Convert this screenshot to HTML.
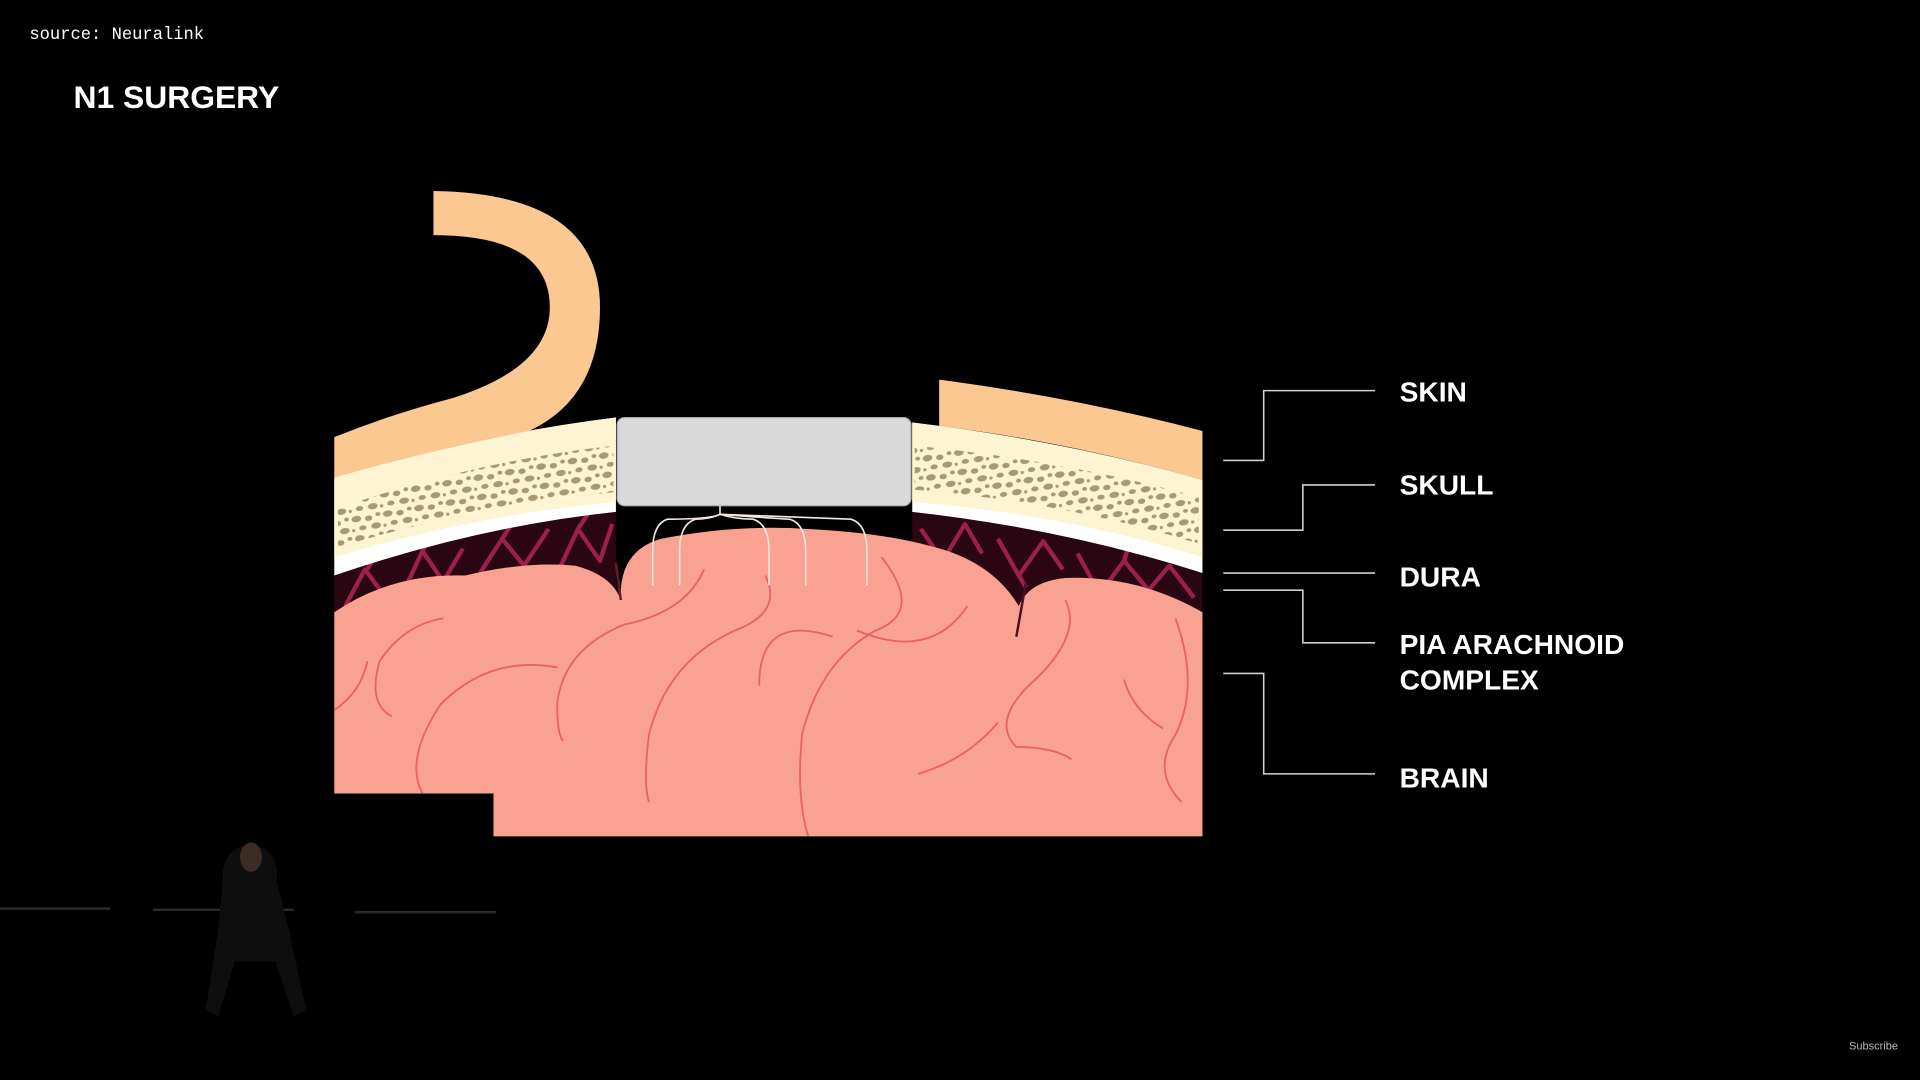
<!DOCTYPE html>
<html><head><meta charset="utf-8"><style>
html,body{margin:0;padding:0;background:#000;width:1920px;height:1080px;overflow:hidden}
svg{display:block}
</style></head><body>
<svg width="1920" height="1080" viewBox="0 0 1568 882" preserveAspectRatio="none" xmlns="http://www.w3.org/2000/svg">
<defs>
<pattern id="pores" width="26" height="16" patternUnits="userSpaceOnUse" patternTransform="rotate(-10)">
<ellipse cx="5" cy="4" rx="4" ry="2.6" fill="#a89876"/>
<ellipse cx="15" cy="5" rx="3" ry="2.2" fill="#a89876"/>
<ellipse cx="23" cy="3" rx="2" ry="1.6" fill="#a89876"/>
<ellipse cx="9" cy="12" rx="3" ry="2" fill="#a89876"/>
<ellipse cx="20" cy="12" rx="4" ry="2.5" fill="#a89876"/>
<ellipse cx="1" cy="13" rx="1.6" ry="1.3" fill="#a89876"/>
</pattern>
</defs>
<rect width="1568" height="882" fill="#000"/>
<text x="24" y="32" font-family="Liberation Mono, monospace" font-size="14" fill="#fff">source: Neuralink</text>
<text x="60" y="88" font-family="Liberation Sans, sans-serif" font-weight="bold" font-size="26" fill="#fff">N1 SURGERY</text>

<path d="M273 470 Q390 430 503 418 L503 500 L273 500 Z" fill="#2a0612"/>
<path d="M745 418 Q870 432 982 468 L982 500 L745 500 Z" fill="#2a0612"/>
<g stroke="#9c1f4c" stroke-width="3.5" fill="none" stroke-linejoin="round">
<path d="M282 495 L298 465 L318 492 M300 465 L310 448 M332 478 L345 450 L362 475 L378 448 M345 450 L352 438 M392 468 L410 440 L428 462 L448 432 M410 440 L418 428 M458 462 L472 432 L490 458 L500 428 M472 432 L480 420"/>
<path d="M752 432 L770 458 L788 428 L802 452 M770 458 L772 470 M815 440 L832 470 L852 442 L868 465 M832 470 L838 480 M880 452 L898 485 L918 458 L938 482 L955 462 L975 488 M918 458 L922 445"/>
</g>

<path d="M273 500 Q320 468 380 470 Q430 458 470 462 Q500 470 507 490 Q505 450 540 440 Q600 428 660 432 Q720 435 760 446 Q810 458 832 495 Q840 475 870 472 Q930 470 982 500 L982 683 L403 683 L403 648 L273 648 Z" fill="#f9a292"/>
<g stroke="#e8606a" stroke-width="1.5" fill="none">
<path d="M362 505 Q330 510 310 540 Q300 575 320 585"/>
<path d="M455 545 Q400 535 360 575 Q330 620 345 648"/>
<path d="M575 465 Q560 500 510 510 Q460 530 455 575 Q455 600 460 605"/>
<path d="M625 470 Q640 500 600 515 Q545 540 530 600 Q525 640 530 655"/>
<path d="M680 520 Q620 500 620 560"/>
<path d="M720 455 Q755 500 715 515 Q670 540 655 600 Q650 650 660 683"/>
<path d="M790 495 Q760 540 700 515"/>
<path d="M870 490 Q885 520 840 560 Q810 590 830 610 Q860 610 875 620"/>
<path d="M750 632 Q790 620 815 590"/>
<path d="M960 505 Q980 560 960 600 Q940 630 965 655"/>
<path d="M918 555 Q925 580 950 595"/>
<path d="M273 580 Q295 565 300 540"/>
</g>
<path d="M503 460 L507 490" stroke="#6b1a2a" stroke-width="2"/>
<path d="M838 475 L830 520" stroke="#4a1020" stroke-width="2"/>

<path d="M273 390 Q390 355 503 341 L503 418 Q390 430 273 470 Z" fill="#fff"/>
<path d="M273 390 Q390 355 503 341 L503 410 Q390 420 273 455 Z" fill="#fdf5d2"/>
<path d="M745 345 Q870 360 982 392 L982 468 Q870 432 745 418 Z" fill="#fff"/>
<path d="M745 345 Q870 360 982 392 L982 455 Q870 420 745 410 Z" fill="#fdf5d2"/>
<path d="M276 415 Q390 376 501 364 L501 402 Q390 412 276 447 Z" fill="url(#pores)"/>
<path d="M747 364 Q870 376 979 406 L979 444 Q870 410 747 400 Z" fill="url(#pores)"/>

<path d="M273 357 Q320 338 370 325 Q449 300 449 251 Q449 192 354 192 L354 156 Q490 158 490 251 Q490 325 432 352 Q350 368 273 390 Z" fill="#fbc892"/>
<path d="M767 310 Q880 325 982 352 L982 392 Q870 360 767 348 Z" fill="#fbc892"/>

<rect x="504" y="341" width="240" height="72" rx="6" fill="#d9d9d9" stroke="#aaa" stroke-width="1"/>
<g stroke="#f4e8e0" stroke-width="1.3" fill="none">
<path d="M588 413 L588 420 Q580 424 545 424 Q533 428 533 450 L533 478"/>
<path d="M588 420 Q580 424 568 424 Q555 428 555 450 L555 478"/>
<path d="M588 420 Q600 424 615 424 Q628 428 628 450 L628 478"/>
<path d="M588 420 Q640 424 645 424 Q658 428 658 450 L658 478"/>
<path d="M588 420 Q690 424 695 424 Q708 428 708 450 L708 478"/>
</g>

<g stroke="#cfcfcf" stroke-width="1.3" fill="none">
<path d="M999 376 H1032 V319 H1123"/>
<path d="M999 433 H1064 V396 H1123"/>
<path d="M999 468 H1123"/>
<path d="M999 482 H1064 V525 H1123"/>
<path d="M999 550 H1032 V632 H1123"/>
</g>
<g font-family="Liberation Sans, sans-serif" font-weight="bold" font-size="23" fill="#fff">
<text x="1143" y="328">SKIN</text>
<text x="1143" y="404">SKULL</text>
<text x="1143" y="479">DURA</text>
<text x="1143" y="534">PIA ARACHNOID</text>
<text x="1143" y="563">COMPLEX</text>
<text x="1143" y="643">BRAIN</text>
</g>

<path d="M0 742 H90 M125 743 H240 M290 745 H405" stroke="#2a2a2a" stroke-width="2"/>
<path d="M182 720 Q180 692 205 690 Q228 692 226 720 L236 760 L250 825 L240 830 L225 785 L192 785 L178 830 L168 825 L178 760 Z" fill="#0e0e0e"/>
<ellipse cx="205" cy="700" rx="9" ry="12" fill="#3a2c22"/>
<text x="1510" y="857" font-family="Liberation Sans, sans-serif" font-size="9" fill="#bbb">Subscribe</text>
</svg>
</body></html>
